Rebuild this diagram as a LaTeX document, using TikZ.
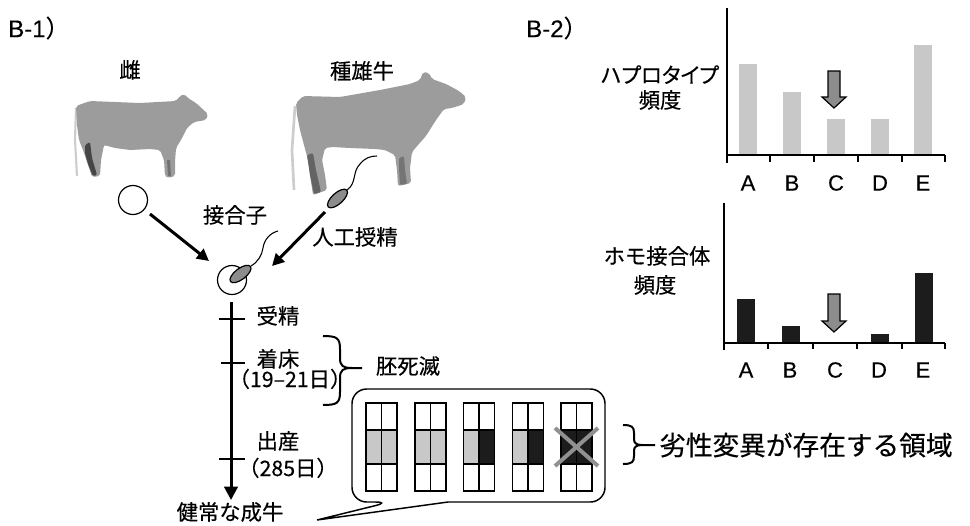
\documentclass[tikz,border=0pt]{standalone}
\usepackage{fontspec}
\setmainfont{Noto Sans CJK JP}[FakeBold=0.35]
\newfontfamily\latin{Liberation Sans}[FakeBold=0.35]
\usetikzlibrary{arrows.meta,shapes.geometric}

\definecolor{cowgray}{RGB}{156,156,156}
\definecolor{legdark}{RGB}{70,70,70}
\definecolor{tailgray}{RGB}{205,205,205}
\definecolor{barlight}{RGB}{200,200,200}
\definecolor{bardark}{RGB}{28,28,28}
\definecolor{arrowgray}{RGB}{140,140,140}
\definecolor{crossgray}{RGB}{145,145,145}

\begin{document}
\begin{tikzpicture}[x=0.75pt,y=-0.75pt,
  lbl/.style={inner sep=0pt,text height=11pt,text depth=2pt,font=\fontsize{16}{19}\selectfont},
  biglbl/.style={inner sep=0pt,font=\fontsize{20}{24}\selectfont},
  panel/.style={inner sep=0pt,font=\fontsize{18}{20}\selectfont},
  axisletter/.style={inner sep=0pt,font=\latin\fontsize{16.5}{19}\selectfont},
  heavy/.style={line width=2.25pt,-{Triangle[length=9pt,width=9pt]}},
  timeline/.style={line width=2.25pt,-{Triangle[length=10pt,width=10pt]}},
  tickmark/.style={line width=2.2pt},
  axisline/.style={line width=1.2pt},
  bracestroke/.style={line width=1.5pt},
  blockarrow/.style={fill=arrowgray,draw,line width=0.9pt,line join=miter},
  cell/.style={circle,draw,fill=white,line width=0.9pt,minimum size=21.75pt,inner sep=0pt},
  spermhead/.style={ellipse,draw,fill=arrowgray,line width=0.9pt,minimum width=18.75pt,minimum height=8.25pt,inner sep=0pt},
  cowbody/.style={fill=cowgray,rounded corners=1.5pt},
]
\useasboundingbox (0,0) rectangle (970,525);

% ---------- panel titles ----------
\node[panel,anchor=west] (t1) at (8,28) {{\latin B-1}）};
\node[panel,anchor=west] (t2) at (526,28) {{\latin B-2}）};

% ---------- cow silhouette ----------
\draw[tailgray,line width=1.6pt] (76,108) -- (75,140) -- (77,176);
\fill[cowbody] (76,106) -- (90,101) -- (140,103) -- (176,101) -- (180,96) -- (184,94)
  -- (188,98) -- (196,103) -- (208,114) -- (206,120) -- (194,122) -- (187,128)
  -- (181,140) -- (176,148) -- (175,162) -- (175,176) -- (168,178) -- (165,176)
  -- (164,160) -- (160,150) -- (150,149) -- (130,150) -- (115,148) -- (104,145)
  -- (101,160) -- (100,176) -- (92,177) -- (88,165) -- (83,150) -- (79,140)
  -- (77,125) -- cycle;
\fill[legdark,rounded corners=1pt] (85,145) -- (90,142) -- (92,158) -- (97,175)
  -- (93,176) -- (88,164) -- (85,153) -- cycle;
\fill[legdark!50!cowgray] (167,160) -- (170,160) -- (171,176) -- (168,176) -- cycle;

% ---------- bull silhouette ----------
\draw[tailgray,line width=2pt] (295,106) -- (292,150) -- (294,190);
\fill[cowbody] (296,103) -- (303,96) -- (340,97) -- (380,90) -- (410,84) -- (420,80)
  -- (423,72) -- (429,73) -- (432,79) -- (446,84) -- (459,91) -- (466,97)
  -- (464,104) -- (452,108) -- (444,109) -- (436,120) -- (426,136) -- (418,145)
  -- (412,152) -- (410,168) -- (411,183) -- (398,186) -- (397,170) -- (395,155)
  -- (385,150) -- (375,149) -- (350,148) -- (333,147) -- (325,148) -- (322,160)
  -- (325,175) -- (327,190) -- (313,195) -- (310,175) -- (308,160) -- (304,145)
  -- (300,130) -- (297,115) -- cycle;
\fill[legdark!65!cowgray,rounded corners=1pt] (307,155) -- (313,153) -- (316,170)
  -- (321,192) -- (314,194) -- (310,175) -- cycle;
\fill[legdark!45!cowgray,rounded corners=1pt] (399,158) -- (404,156) -- (405,170)
  -- (407,184) -- (400,185) -- (399,168) -- cycle;

\node[lbl] (cowlbl) at (130,72) {雌};
\node[lbl] (bulllbl) at (362,73) {種雄牛};

% ---------- gametes ----------
\node[cell] (egg) at (133,200) {};
\node[spermhead,rotate=42] (sperm) at (337.5,198.5) {};
\draw[line width=0.8pt] (347,190) .. controls (357,183) and (352,172) .. (360,164)
  .. controls (365,158) and (370,156) .. (377,156);

\node[cell] (zygote) at (232,280) {};
\node[spermhead,rotate=37] (fused) at (240.5,274) {};
\draw[line width=0.8pt] (251,266) .. controls (258,262) and (262,255) .. (263,248)
  .. controls (264,240) and (270,233) .. (278,231);

\coordinate (eggout) at (150,214);
\coordinate (zygin1) at (209,261);
\coordinate (spermout) at (325,212);
\coordinate (zygin2) at (272,266);
\draw[heavy] (eggout) -- (zygin1);
\draw[heavy] (spermout) -- (zygin2);

\node[lbl] (zyglbl) at (235,217) {接合子};
\node[lbl] (ailbl) at (355,239) {人工授精};

% ---------- time line ----------
\node[lbl] (adult) at (230,514) {健常な成牛};
\coordinate (tltop) at (231,302);
\coordinate (tlend) at (231,500);
\draw[timeline] (tltop) -- (tlend);
\draw[tickmark] (219,319) -- (245,319);
\draw[tickmark] (221,363) -- (245,363);
\draw[tickmark] (219,459) -- (245,459);

\node[lbl] (fert) at (278,318) {受精};
\node[lbl] (impl) at (278,361) {着床};
\node[lbl] (impld) at (290,381) {（19–21日）};
\node[lbl] (birth) at (278,443) {出産};
\node[lbl] (birthd) at (288,470) {（285日）};

% brace for embryonic death
\draw[bracestroke] (323,336) .. controls (337,336) and (340,338) .. (340,349) -- (340,358)
  .. controls (340,366) and (343,368) .. (352,368) -- (362,368);
\draw[bracestroke] (323,405) .. controls (337,405) and (340,403) .. (340,392) -- (340,378)
  .. controls (340,370) and (343,368) .. (352,368);
\node[lbl] (death) at (408,368) {胚死滅};

% ---------- callout with chromosome pairs ----------
\draw[line width=1.1pt,fill=white] (448,502) [rounded corners=11pt] -- (605,502)
  -- (605,389) -- (352,389) -- (352,502) -- (390,502) [sharp corners] -- (317,520) -- cycle;

\foreach \i/\lf/\rf in {0/barlight/barlight,1/barlight/barlight,2/barlight/bardark,
                         3/barlight/bardark,4/bardark/bardark}{
  \pgfmathsetmacro{\xl}{366+48.8*\i}
  \pgfmathsetmacro{\xm}{\xl+15.5}
  \pgfmathsetmacro{\xr}{\xl+31}
  \fill[\lf] (\xl,430) rectangle (\xm,464);
  \fill[\rf] (\xm,430) rectangle (\xr,464);
  \draw[line width=1.1pt] (\xl,403) rectangle (\xr,491);
  \draw[line width=1.1pt] (\xm,403) -- (\xm,491);
  \draw[line width=1.1pt] (\xl,430) -- (\xr,430) (\xl,464) -- (\xr,464);
}
\draw[crossgray,line width=3pt] (555,428) -- (598,466);
\draw[crossgray,line width=3pt] (555,466) -- (598,428);

% brace for the region with the recessive variant
\draw[bracestroke] (623,425) .. controls (632,425) and (634,427) .. (634,433) -- (634,439)
  .. controls (634,443) and (636,445) .. (642,445) -- (655,445);
\draw[bracestroke] (623,464) .. controls (632,464) and (634,462) .. (634,456) -- (634,451)
  .. controls (634,447) and (636,445) .. (642,445);
\node[biglbl,anchor=west] (region) at (659,445) {劣性変異が存在する領域};

% ---------- haplotype frequency chart ----------
\node[lbl,font=\fontsize{16}{19}\selectfont\addfontfeature{RawFeature=+palt}] (hapl) at (660,77) {ハプロタイプ};
\node[lbl] (hapl2) at (660,102) {頻度};
\foreach \xl/\top in {739/64,783/92,827/119,871/119,914/45}{
  \fill[barlight] (\xl,\top) rectangle ++(18,155-\top);
}
\draw[axisline] (727,8) -- (727,163);
\draw[axisline] (727,155) -- (945,155);
\foreach \x in {770,814,858,902,945}{ \draw[axisline] (\x,155) -- (\x,162); }
\foreach \x/\t in {748/A,792/B,836/C,880/D,923/E}{
  \node[axisletter] (top\t) at (\x,183) {\t};
}
\draw[blockarrow] (828,71) -- (840,71) -- (840,97) -- (846,97) -- (834,108) -- (822,97)
  -- (828,97) -- cycle;

% ---------- homozygote frequency chart ----------
\node[lbl] (homo) at (657,258) {ホモ接合体};
\node[lbl] (homo2) at (655,287) {頻度};
\foreach \xl/\top in {737/299,782/326,871/334,915/273}{
  \fill[bardark] (\xl,\top) rectangle ++(18,343-\top);
}
\draw[axisline] (724,203) -- (724,350);
\draw[axisline] (724,343) -- (945,343);
\foreach \x in {768,813,857,902,945}{ \draw[axisline] (\x,343) -- (\x,349); }
\foreach \x/\t in {746/A,790/B,835/C,879/D,923/E}{
  \node[axisletter] (bot\t) at (\x,370) {\t};
}
\draw[blockarrow] (828,294) -- (840,294) -- (840,321) -- (846,321) -- (834,332) -- (822,321)
  -- (828,321) -- cycle;

\end{tikzpicture}
\end{document}
